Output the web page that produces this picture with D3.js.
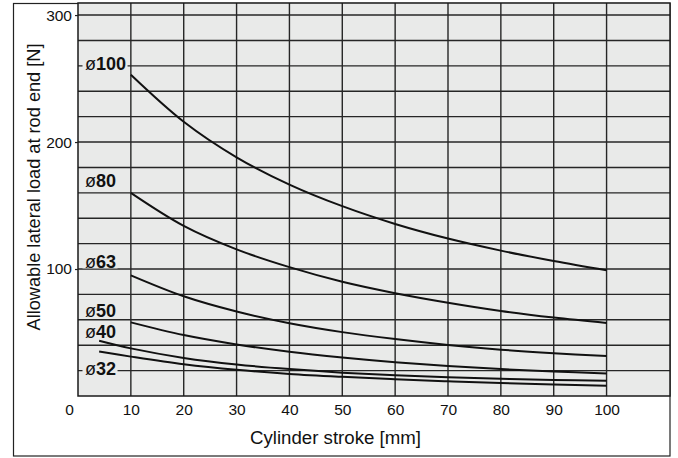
<!DOCTYPE html>
<html>
<head>
<meta charset="utf-8">
<script src="https://cdn.jsdelivr.net/npm/d3@7"></script>
<style>
  html, body { margin: 0; padding: 0; background: #fff; }
  svg { display: block; font-family: "Liberation Sans", Arial, Helvetica, sans-serif; }
</style>
</head>
<body>
<svg id="chart" width="678" height="458"></svg>
<script>
// Cylinder stroke [mm] at which each curve is sampled
const strokeLong = [10, 20, 30, 40, 50, 60, 70, 80, 90, 100];
const strokeShort = [4, 10, 20, 30, 40, 50, 60, 70, 80, 90, 100];

// Allowable lateral load [N] per bore size
const bore100 = [253, 216, 188, 166.5, 149.5, 135.5, 124, 114.5, 106.3, 99];
const bore80 = [160, 134, 115.5, 101.5, 90, 81, 73.5, 67, 61.8, 57.5];
const bore63 = [95, 78.5, 66.5, 57.3, 50.3, 44.8, 40.2, 36.5, 33.7, 31.5];
const bore50 = [58, 48, 40.6, 34.8, 30.3, 26.6, 23.6, 21.2, 19.3, 17.8];
const bore40 = [43.5, 37.5, 30, 24.8, 21.2, 18.4, 16.3, 14.7, 13.5, 12.6, 12];
const bore32 = [35, 31, 25, 20.6, 17.4, 15.1, 13.2, 11.6, 10.2, 9.1, 8.1];

// Bore names and the load level each name is written at
const boreNames = ["100", "80", "63", "50", "40", "32"];
const nameLoad = [262, 170, 106, 67, 51, 22];

// Axis ticks
const xTicks = [0, 10, 20, 30, 40, 50, 60, 70, 80, 90, 100];
const yTicks = [100, 200, 300];

const seriesList = [
  { strokes: strokeLong, loads: bore100 },
  { strokes: strokeLong, loads: bore80 },
  { strokes: strokeLong, loads: bore63 },
  { strokes: strokeLong, loads: bore50 },
  { strokes: strokeShort, loads: bore40 },
  { strokes: strokeShort, loads: bore32 }
];

const svg = d3.select("#chart");
const plotL = 78, plotR = 670, plotT = 3, plotB = 396;

const x = d3.scaleLinear().domain([0, 112]).range([plotL, plotR]);
const y = d3.scaleLinear().domain([0, 309.5]).range([plotB, plotT]);

// outer frame
svg.append("rect")
  .attr("x", 13.5).attr("y", 3.5).attr("width", 656.5).attr("height", 452.5)
  .attr("fill", "#fff").attr("stroke", "#222").attr("stroke-width", 1.2);

// plot background
svg.append("rect")
  .attr("x", plotL).attr("y", plotT).attr("width", plotR - plotL).attr("height", plotB - plotT)
  .attr("fill", "#e9eae9");

const gridColor = "#262626";

// horizontal grid every 20 N
const hLines = d3.range(20, 301, 20);
svg.append("g").selectAll("line").data(hLines).join("line")
  .attr("x1", plotL).attr("x2", plotR)
  .attr("y1", d => y(d)).attr("y2", d => y(d))
  .attr("stroke", gridColor).attr("stroke-width", 1.4);

// vertical grid every 10 mm
const vLines = d3.range(10, 101, 10);
svg.append("g").selectAll("line").data(vLines).join("line")
  .attr("y1", plotT).attr("y2", plotB)
  .attr("x1", d => x(d)).attr("x2", d => x(d))
  .attr("stroke", gridColor).attr("stroke-width", 1.4);

// plot border
svg.append("rect")
  .attr("x", plotL).attr("y", plotT).attr("width", plotR - plotL).attr("height", plotB - plotT)
  .attr("fill", "none").attr("stroke", "#1a1a1a").attr("stroke-width", 1.5);

// curves
const line = d3.line()
  .x(d => x(d[0]))
  .y(d => y(d[1]))
  .curve(d3.curveCatmullRom.alpha(0.5));

svg.append("g").selectAll("path").data(seriesList).join("path")
  .attr("d", s => line(s.strokes.map((v, i) => [v, s.loads[i]])))
  .attr("fill", "none")
  .attr("stroke", "#111")
  .attr("stroke-width", 2);

// bore names with a knock-out behind them
const nameG = svg.append("g");
boreNames.forEach((name, i) => {
  const g = nameG.append("g");
  const t = g.append("text")
    .attr("x", 85)
    .attr("y", y(nameLoad[i]))
    .attr("dy", "0.36em")
    .attr("font-size", 18)
    .attr("fill", "#111");
  t.append("tspan").attr("font-weight", "normal").text("ø");
  t.append("tspan").attr("font-weight", "bold").text(name);
  const bb = t.node().getBBox();
  g.insert("rect", "text")
    .attr("x", bb.x - 2.5).attr("y", y(nameLoad[i]) - 7)
    .attr("width", bb.width + 4).attr("height", 14)
    .attr("fill", "#e9eae9");
});

// x axis labels
const xAxis = d3.axisBottom(x).tickValues(xTicks).tickSize(0).tickPadding(8)
  .tickFormat(d3.format("d"));
const gx = svg.append("g").attr("transform", `translate(0,${plotB})`).call(xAxis);
gx.select(".domain").remove();
gx.selectAll("text")
  .attr("font-size", 15.5).attr("fill", "#111")
  .attr("font-family", "Liberation Sans, Arial, sans-serif")
  .attr("dx", d => d === 0 ? -9 : 0);

// y axis labels
const yAxis = d3.axisLeft(y).tickValues(yTicks).tickSize(3).tickPadding(3)
  .tickFormat(d3.format("d"));
const gy = svg.append("g").attr("transform", `translate(${plotL},0)`).call(yAxis);
gy.select(".domain").remove();
gy.selectAll("line").attr("stroke", "#222").attr("stroke-width", 1.2);
gy.selectAll("text")
  .attr("font-size", 15.5).attr("fill", "#111")
  .attr("font-family", "Liberation Sans, Arial, sans-serif");

// axis titles
svg.append("text")
  .attr("x", 335.5).attr("y", 444)
  .attr("text-anchor", "middle")
  .attr("font-size", 18).attr("fill", "#111")
  .attr("textLength", 171).attr("lengthAdjust", "spacingAndGlyphs")
  .text("Cylinder stroke [mm]");

svg.append("text")
  .attr("transform", "translate(39.5,187) rotate(-90)")
  .attr("text-anchor", "middle")
  .attr("font-size", 18).attr("fill", "#111")
  .attr("textLength", 287).attr("lengthAdjust", "spacingAndGlyphs")
  .text("Allowable lateral load at rod end [N]");
</script>
</body>
</html>
